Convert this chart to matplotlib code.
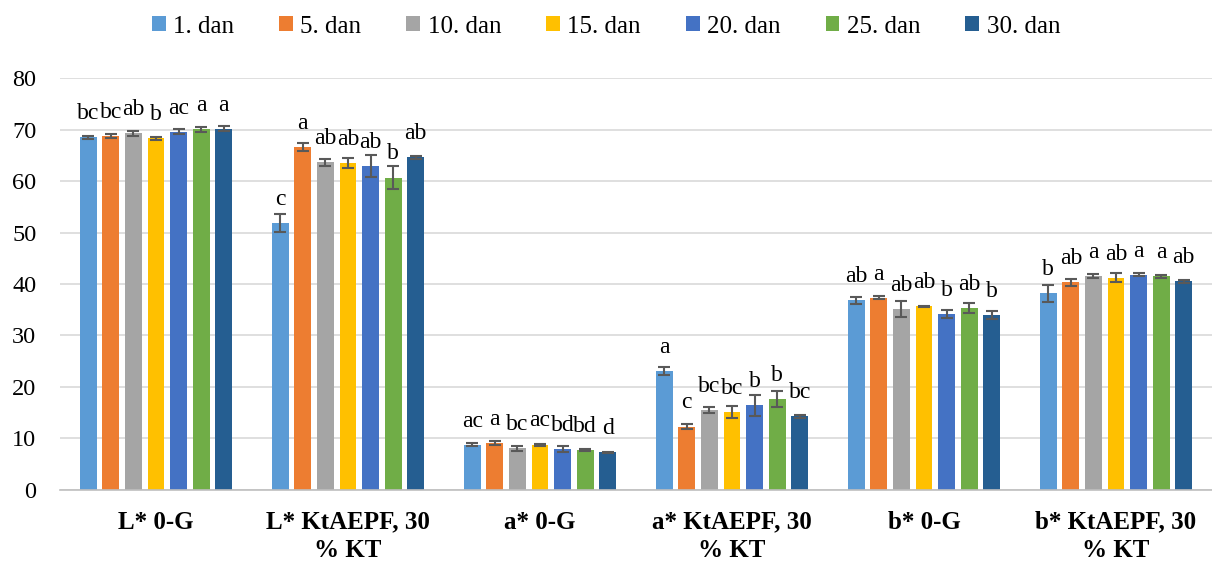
import numpy as np
import matplotlib.pyplot as plt

categories = ["L* 0-G", "L* KtAEPF, 30\n% KT", "a* 0-G", "a* KtAEPF, 30\n% KT", "b* 0-G", "b* KtAEPF, 30\n% KT"]
series = ["1. dan", "5. dan", "10. dan", "15. dan", "20. dan", "25. dan", "30. dan"]
colors = ["#5B9BD5", "#ED7D31", "#A5A5A5", "#FFC000", "#4472C4", "#70AD47", "#255E91"]

# values per day (rows) for each category (columns)
dan1 = [68.5, 51.9, 8.75, 23.1, 36.8, 38.2]
dan5 = [68.7, 66.6, 9.1, 12.3, 37.3, 40.3]
dan10 = [69.3, 63.7, 8.1, 15.5, 35.1, 41.5]
dan15 = [68.3, 63.5, 8.8, 15.1, 35.7, 41.2]
dan20 = [69.6, 62.9, 7.9, 16.4, 34.2, 41.8]
dan25 = [70.1, 60.7, 7.8, 17.7, 35.4, 41.5]
dan30 = [70.2, 64.6, 7.3, 14.3, 34.0, 40.5]

err1 = [0.3, 1.8, 0.3, 0.8, 0.6, 1.6]
err5 = [0.4, 0.8, 0.3, 0.5, 0.3, 0.6]
err10 = [0.5, 0.7, 0.5, 0.5, 1.6, 0.4]
err15 = [0.3, 1.0, 0.2, 1.1, 0.1, 0.9]
err20 = [0.5, 2.1, 0.6, 2.0, 0.8, 0.3]
err25 = [0.5, 2.3, 0.2, 1.6, 1.0, 0.3]
err30 = [0.5, 0.2, 0.1, 0.3, 0.8, 0.3]

let1 = ["bc", "c", "ac", "a", "ab", "b"]
let5 = ["bc", "a", "a", "c", "a", "ab"]
let10 = ["ab", "ab", "bc", "bc", "ab", "a"]
let15 = ["b", "ab", "ac", "bc", "ab", "ab"]
let20 = ["ac", "ab", "bd", "b", "b", "a"]
let25 = ["a", "b", "bd", "b", "ab", "a"]
let30 = ["a", "ab", "d", "bc", "b", "ab"]

values = [dan1, dan5, dan10, dan15, dan20, dan25, dan30]
errors = [err1, err5, err10, err15, err20, err25, err30]
letters = [let1, let5, let10, let15, let20, let25, let30]

plt.rcParams['font.family'] = ['Liberation Serif', 'DejaVu Serif']

fig = plt.figure(figsize=(12.12, 5.63), dpi=100)
ax = fig.add_axes([0.0495, 0.130, 0.9505, 0.731])

x = np.arange(len(categories))
n = len(series)
group_w = 0.823
w = group_w / n

for i in range(n):
    pos = x - group_w / 2 + w * (i + 0.5)
    ax.bar(pos, values[i], width=w * 0.75, color=colors[i], label=series[i], zorder=2)
    ax.errorbar(pos, values[i], yerr=errors[i], fmt='none', ecolor='#595959',
                elinewidth=1.5, capsize=4, capthick=1.5, zorder=3)
    for j in range(len(categories)):
        ax.annotate(letters[i][j], (pos[j], values[i][j]), xytext=(0, 17),
                    textcoords='offset points', ha='center', va='center', fontsize=17)

ax.set_ylim(0, 80)
ax.set_xlim(-0.5, len(categories) - 0.5)
ax.set_yticks(range(0, 81, 10))
ax.yaxis.grid(True, color='#D9D9D9', linewidth=1.2, zorder=0)
ax.set_axisbelow(True)
for s in ['top', 'right', 'left']:
    ax.spines[s].set_visible(False)
ax.spines['bottom'].set_color('#BFBFBF')
ax.spines['bottom'].set_linewidth(1.2)
ax.tick_params(axis='both', length=0, labelsize=17.5, colors='black')
ax.tick_params(axis='y', pad=17)
ax.set_xticks(x)
ax.set_xticklabels(categories, fontweight='bold', fontsize=18, linespacing=1.3)
ax.tick_params(axis='x', pad=15)

fig.legend(loc='upper center', bbox_to_anchor=(0.5, 1.012), ncol=7, frameon=False,
           fontsize=18, handlelength=0.55, handleheight=0.55, columnspacing=1.8,
           handletextpad=0.3)

plt.savefig("out.png", dpi=100)
